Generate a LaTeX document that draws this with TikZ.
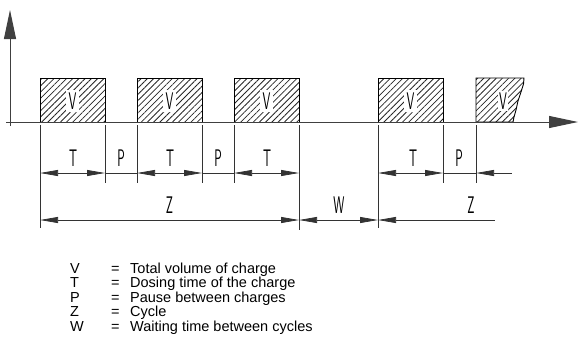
\documentclass[tikz,border=0pt]{standalone}
\usepackage{fontspec}
\setmainfont{Liberation Sans}
\usetikzlibrary{arrows.meta,patterns.meta}
\newcommand\isolbl[1]{\scalebox{0.52}[1]{\fontsize{24}{24}\selectfont\sffamily #1}}
\tikzset{
  ln/.style={draw=black!80, line width=0.75pt},
  axis/.style={draw=black!75, line width=1pt},
  tip/.tip={Triangle[length=18pt,width=6pt]},
  bigtip/.tip={Triangle[length=29pt,width=12pt]},
  dimtwo/.style={ln, tip-tip},
  hatch/.style={pattern={Lines[angle=45,distance=4.4pt,line width=0.8pt]}, pattern color=black!85},
  outline/.style={draw=black, line width=0.9pt},
  chargebox/.style={hatch, outline, inner sep=0pt, minimum width=65pt, minimum height=44pt},
  vlbl/.style={fill=white, inner sep=2.5pt},
  dlbl/.style={inner sep=0pt},
  key/.style={anchor=base west, inner sep=0pt, font=\fontsize{14.5}{14.5}\selectfont},
}
\begin{document}
\begin{tikzpicture}[x=1pt,y=-1pt]
\useasboundingbox (0,0) rectangle (578,338);

% charges
\node[chargebox] (b1) at (72.5,100) {};
\node[chargebox] (b2) at (169.5,100) {};
\node[chargebox] (b3) at (266.5,100) {};
\node[chargebox] (b4) at (410.5,100) {};
\fill[hatch] (476,122) -- (476,78) -- (524,78) -- (523.5,84) -- (521,92) -- (518,101) -- (516,110) -- (514,117) -- (513,122) -- cycle;
\draw[outline] (513,122) -- (476,122) -- (476,78) -- (524,78) -- (523.5,84) -- (521,92) -- (518,101) -- (516,110) -- (514,117) -- (513,122);
\node[vlbl] (v1) at (72.5,101) {\isolbl{V}};
\node[vlbl] (v2) at (169.5,101) {\isolbl{V}};
\node[vlbl] (v3) at (266.5,101) {\isolbl{V}};
\node[vlbl] (v4) at (410.5,101) {\isolbl{V}};
\node[vlbl, inner sep=1.5pt] (v5) at (503,101) {\isolbl{V}};

% axes
\coordinate (o1) at (10,126);
\coordinate (ytop) at (10,10);
\coordinate (o2) at (6,122);
\coordinate (xend) at (578,122);
\draw[axis, -bigtip] (o1) -- (ytop);
\draw[axis, -bigtip] (o2) -- (xend);

% extension lines
\foreach \n/\x/\y in {1/40/228, 2/105/183, 3/137/183, 4/202/183, 5/234/183, 6/299/230, 7/378/228, 8/443/183, 9/476/183}{
  \coordinate (t\n) at (\x,125);
  \coordinate (u\n) at (\x,\y);
  \draw[ln] (t\n) -- (u\n);
}

% dimension row T/P
\foreach \n/\x in {1/40, 2/105, 3/137, 4/202, 5/234, 6/299, 7/378, 8/443, 9/476}{
  \coordinate (d\n) at (\x,173);
  \coordinate (z\n) at (\x,220);
}
\coordinate (dend) at (512,173);
\coordinate (zend) at (495,220);
\draw[dimtwo] (d1) -- (d2);
\draw[ln] (d2) -- (d3);
\draw[dimtwo] (d3) -- (d4);
\draw[ln] (d4) -- (d5);
\draw[dimtwo] (d5) -- (d6);
\draw[dimtwo] (d7) -- (d8);
\draw[ln] (d8) -- (d9);
\draw[ln, tip-] (d9) -- (dend);

% dimension row Z/W
\draw[dimtwo] (z1) -- (z6);
\draw[dimtwo] (z6) -- (z7);
\draw[ln, tip-] (z7) -- (zend);

% labels
\node[dlbl] (lt1) at (73,158) {\isolbl{T}};
\node[dlbl] (lp1) at (121,158) {\isolbl{P}};
\node[dlbl] (lt2) at (170,158) {\isolbl{T}};
\node[dlbl] (lp2) at (218,158) {\isolbl{P}};
\node[dlbl] (lt3) at (267,158) {\isolbl{T}};
\node[dlbl] (lt4) at (413,158) {\isolbl{T}};
\node[dlbl] (lp3) at (459,158) {\isolbl{P}};
\node[dlbl] (lz1) at (169.5,205) {\isolbl{Z}};
\node[dlbl] (lw) at (339,205) {\isolbl{W}};
\node[dlbl] (lz2) at (471,205) {\isolbl{Z}};

% legend
\foreach \n/\s/\t/\y in {1/V/Total volume of charge/273, 2/T/Dosing time of the charge/287.5, 3/P/Pause between charges/302, 4/Z/Cycle/316.5, 5/W/Waiting time between cycles/331}{
  \node[key] (ks\n) at (70,\y) {\s};
  \node[key] (ke\n) at (111,\y) {=};
  \node[key] (kt\n) at (130,\y) {\t};
}
\end{tikzpicture}
\end{document}
